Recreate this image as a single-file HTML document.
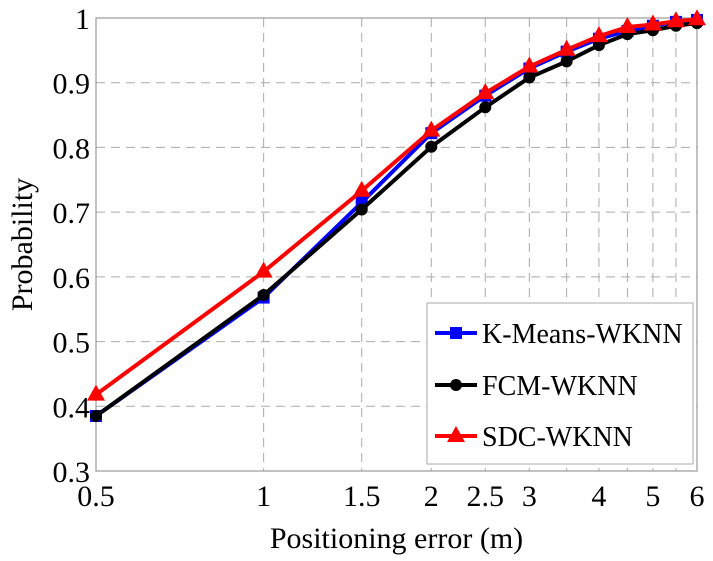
<!DOCTYPE html>
<html><head><meta charset="utf-8"><style>
body{margin:0;background:#fff;}
svg text{font-family:"Liberation Serif",serif;fill:#000;}
</style></head><body>
<svg id="chart" width="713" height="556" xmlns="http://www.w3.org/2000/svg"></svg>
<script>
const xTicks=[0.5,1,1.5,2,2.5,3,3.5,4,4.5,5,5.5,6];
const xLabels=["0.5","1","1.5","2","2.5","3","","4","","5","","6"];
const yTicks=[0.3,0.4,0.5,0.6,0.7,0.8,0.9,1];
const yLabels=["0.3","0.4","0.5","0.6","0.7","0.8","0.9","1"];
const xValues=[0.5,1,1.5,2,2.5,3,3.5,4,4.5,5,5.5,6];
const kmeans=[0.385,0.568,0.715,0.822,0.880,0.922,0.948,0.968,0.980,0.988,0.994,0.997];
const fcm=[0.385,0.572,0.704,0.801,0.862,0.908,0.933,0.958,0.975,0.981,0.988,0.992];
const sdc=[0.418,0.608,0.733,0.826,0.884,0.925,0.951,0.972,0.986,0.990,0.995,0.998];

const NS="http://www.w3.org/2000/svg";
const svg=document.getElementById('chart');
const L=96,R=697,T=18,B=471;
const xS=v=>L+(Math.log(v/0.5)/Math.log(12))*(R-L);
const yS=v=>B-(v-0.3)/0.7*(B-T);
function mk(tag,a,parent){const e=document.createElementNS(NS,tag);for(const k in a)e.setAttribute(k,a[k]);(parent||svg).appendChild(e);return e;}

const grid=mk('g',{});


xTicks.forEach((t,i)=>{
  const x=xS(t);
  mk('line',{x1:x,x2:x,y1:T,y2:B,stroke:'#aaa','stroke-width':1,'stroke-dasharray':'9,6'},grid);
  if(xLabels[i]){const tx=mk('text',{x:x,y:B+35,'text-anchor':'middle','font-size':30});tx.textContent=xLabels[i];
  
  }
});
yTicks.forEach((t,i)=>{
  const y=yS(t);
  mk('line',{x1:L,x2:R,y1:y,y2:y,stroke:'#aaa','stroke-width':1,'stroke-dasharray':'9,6'},grid);
  const tx=mk('text',{x:L-6,y:y+11,'text-anchor':'end','font-size':30});tx.textContent=yLabels[i];
  
  
});
const frame=mk('rect',{x:L,y:T,width:R-L,height:B-T,fill:'none',stroke:'#999','stroke-width':1.2});



function marker(type,x,y,color,g){
  if(type==='sq')mk('rect',{x:x-6,y:y-6,width:12,height:12,fill:color},g);
  else if(type==='ci')mk('circle',{cx:x,cy:y,r:6,fill:color},g);
  else mk('polygon',{points:`${x},${y-10} ${x-9},${y+6} ${x+9},${y+6}`,fill:color},g);
}
function series(vals,color,type,name){
  const g=mk('g',{});
  
  
  mk('polyline',{points:vals.map((v,i)=>xS(xValues[i])+','+yS(v)).join(' '),fill:'none',stroke:color,'stroke-width':4,'stroke-linejoin':'round'},g);
  vals.forEach((v,i)=>marker(type,xS(xValues[i]),yS(v),color,g));
}
series(kmeans,'#0000ff','sq','series-kmeans-wknn');
series(fcm,'#000','ci','series-fcm-wknn');
series(sdc,'#ff0000','tr','series-sdc-wknn');

const lg=mk('g',{});


mk('rect',{x:427,y:303,width:266,height:161,fill:'#fff',stroke:'#aaa','stroke-width':1},lg);
[['K-Means-WKNN','#0000ff','sq',333],['FCM-WKNN','#000','ci',385],['SDC-WKNN','#ff0000','tr',436]].forEach(e=>{
  const g=mk('g',{},lg);
  
  
  mk('line',{x1:435,x2:477,y1:e[3],y2:e[3],stroke:e[1],'stroke-width':4},g);
  marker(e[2],456,e[3],e[1],g);
  const t=mk('text',{x:482,y:e[3]+10,'font-size':28},g);t.textContent=e[0];
});

const xt=mk('text',{x:(L+R)/2,y:548,'text-anchor':'middle','font-size':30});xt.textContent='Positioning error (m)';


const yt=mk('text',{x:0,y:0,'text-anchor':'middle','font-size':30,transform:`translate(32,${(T+B)/2}) rotate(-90)`});yt.textContent='Probability';


</script>
</body></html>
